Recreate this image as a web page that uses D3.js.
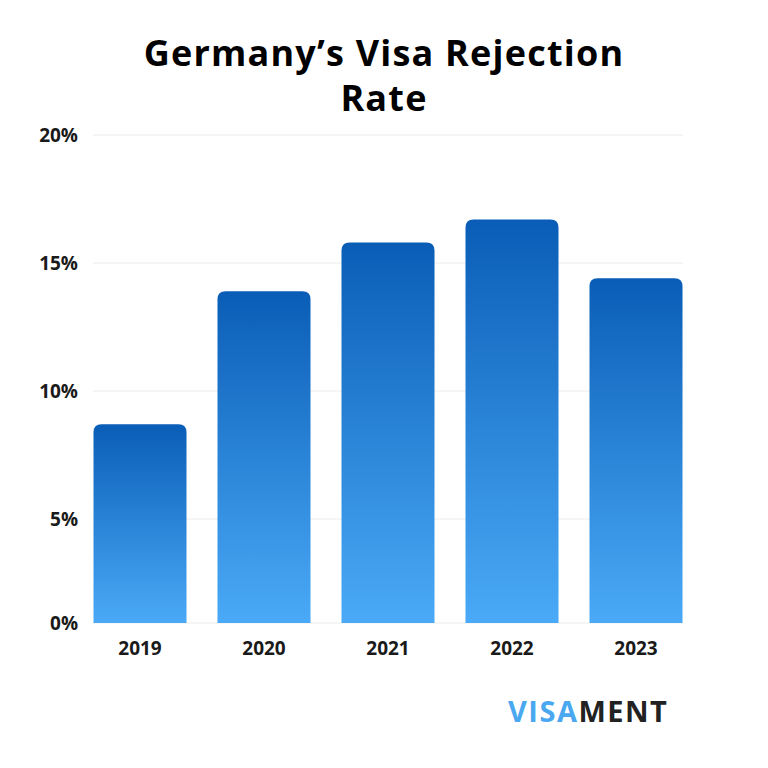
<!DOCTYPE html>
<html>
<head>
<meta charset="utf-8">
<script src="https://cdn.jsdelivr.net/npm/d3@7"></script>
<style>
  body { margin: 0; background: #fff; }
  text { font-family: 'Open Sans', sans-serif; }
</style>
</head>
<body>
<div id="chart"></div>
<script>
// data
const years = ['2019', '2020', '2021', '2022', '2023'];
const rates = [8.7, 13.9, 15.8, 16.7, 14.4];
const yTicks = [0, 5, 10, 15, 20];

const W = 768, H = 768;
const plotLeft = 78, plotRight = 698, plotTop = 135, plotBottom = 623;

const svg = d3.select('#chart').append('svg')
  .attr('width', W).attr('height', H);

const defs = svg.append('defs');
const grad = defs.append('linearGradient')
  .attr('id', 'barGrad').attr('x1', 0).attr('y1', 0).attr('x2', 0).attr('y2', 1);
grad.append('stop').attr('offset', '0%').attr('stop-color', '#0a5db6');
grad.append('stop').attr('offset', '100%').attr('stop-color', '#4aaaf7');

// title
svg.append('text')
  .attr('x', 384).attr('text-anchor', 'middle')
  .attr('font-size', 36).attr('font-weight', 700).attr('fill', '#000')
  .attr('letter-spacing', 1.2)
  .selectAll('tspan').data(['Germany\u2019s Visa Rejection', 'Rate']).enter()
  .append('tspan').attr('x', 384).attr('y', (d, i) => 66 + i * 45).text(d => d);

const x = d3.scaleBand().domain(years).range([plotLeft, plotRight]).paddingInner(0.25).paddingOuter(0.125);
// the axis baseline sits a bit above true zero in the source chart
const y = d3.scaleLinear().domain([0, 20]).range([plotBottom + 24, plotTop]);
const tickY = v => v === 0 ? plotBottom : y(v);

// grid
svg.append('g').selectAll('line').data(yTicks).enter().append('line')
  .attr('x1', 93).attr('x2', 683)
  .attr('y1', d => tickY(d)).attr('y2', d => tickY(d))
  .attr('stroke', '#ebebeb').attr('stroke-width', 1);

svg.append('g').selectAll('text').data(yTicks).enter().append('text')
  .attr('x', 78).attr('y', d => tickY(d)).attr('dy', '0.35em')
  .attr('text-anchor', 'end').attr('font-size', 19).attr('font-weight', 700)
  .attr('fill', '#1a1a1a').text(d => d + '%');

// bars with rounded top
const r = 8;
svg.append('g').selectAll('path').data(rates).enter().append('path')
  .attr('fill', 'url(#barGrad)')
  .attr('d', (d, i) => {
    const x0 = x(years[i]), w = x.bandwidth(), t = y(d), b = plotBottom;
    return `M${x0},${b}V${t + r}Q${x0},${t} ${x0 + r},${t}H${x0 + w - r}Q${x0 + w},${t} ${x0 + w},${t + r}V${b}Z`;
  });

svg.append('g').selectAll('text').data(years).enter().append('text')
  .attr('x', d => x(d) + x.bandwidth() / 2).attr('y', 655)
  .attr('text-anchor', 'middle').attr('font-size', 19).attr('font-weight', 700)
  .attr('fill', '#1a1a1a').text(d => d);

// logo
const logo = svg.append('text').attr('x', 508).attr('y', 722)
  .attr('font-size', 29).attr('font-weight', 700).attr('letter-spacing', 1.5)
  .attr('font-family', 'Inter, sans-serif');
logo.append('tspan').attr('fill', '#4aa8f0').text('VISA');
logo.append('tspan').attr('fill', '#222').text('MENT');
</script>
</body>
</html>
